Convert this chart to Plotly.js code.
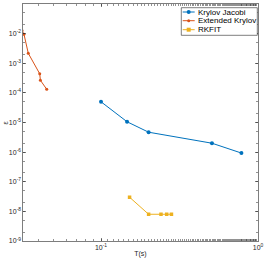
<!DOCTYPE html>
<html><head><meta charset="utf-8">
<script src="https://cdn.plot.ly/plotly-3.0.1.min.js"></script>
<style>html,body{margin:0;padding:0;background:#fff}#c{width:266px;height:262px}</style>
</head><body><div id="c"></div>
<script>
var kjT = [0.100, 0.1465, 0.201, 0.509, 0.784];
var kjE = [5.0e-5, 1.06e-5, 4.7e-6, 2.0e-6, 9.3e-7];
var ekT = [0.0314, 0.0323, 0.0344, 0.0407, 0.0411, 0.0451];
var ekE = [1.26e-2, 9.5e-3, 2.17e-3, 4.4e-4, 2.66e-4, 1.32e-4];
var rkT = [0.152, 0.201, 0.241, 0.262, 0.281];
var rkE = [3.0e-8, 8.0e-9, 8.0e-9, 8.0e-9, 8.0e-9];
var seriesNames = ['Krylov Jacobi', 'Extended Krylov', 'RKFIT'];
var seriesColors = ['#0072BD', '#D95319', '#EDB120'];
var xTickVals = [0.1, 1];
var xTickText = ['10<sup>-1</sup>', '10<sup>0</sup>'];
var yTickVals = [1e-1, 1e-2, 1e-3, 1e-4, 1e-5, 1e-6, 1e-7, 1e-8, 1e-9];
var yTickText = ['10<sup>-1</sup>','10<sup>-2</sup>','10<sup>-3</sup>','10<sup>-4</sup>','10<sup>-5</sup>','10<sup>-6</sup>','10<sup>-7</sup>','10<sup>-8</sup>','10<sup>-9</sup>'];

var FONT = 'Liberation Sans, Arial, sans-serif';
var traces = [
  {x: kjT, y: kjE, name: seriesNames[0], mode: 'lines+markers',
   line: {color: seriesColors[0], width: 1}, marker: {symbol: 'circle', size: 4, color: seriesColors[0]}},
  {x: ekT, y: ekE, name: seriesNames[1], mode: 'lines+markers',
   line: {color: seriesColors[1], width: 1}, marker: {symbol: 'circle', size: 3, color: seriesColors[1]}},
  {x: rkT, y: rkE, name: seriesNames[2], mode: 'lines+markers',
   line: {color: seriesColors[2], width: 1}, marker: {symbol: 'square', size: 3.5, color: seriesColors[2]}}
];
var axisCommon = {
  type: 'log', showgrid: false, zeroline: false, showline: true, linecolor: '#262626', linewidth: 0.6,
  mirror: 'ticks', ticks: 'inside', ticklen: 3, tickwidth: 0.6, tickcolor: '#262626',
  tickfont: {family: FONT, size: 7, color: '#262626'},
  minor: {ticks: 'inside', ticklen: 2, tickwidth: 0.5, tickcolor: '#262626', showgrid: false}
};

var W = 266, H = 262, L = 23, R = 8, T = 4, B = 21;
var pw = W - L - R, ph = H - T - B;
function px(x) { return (x - L) / pw; }
function py(y) { return (H - B - y) / ph; }
var shapes = [{type: 'rect', xref: 'paper', yref: 'paper', x0: px(181.3), x1: px(257.3), y0: py(35.3), y1: py(7.7),
  line: {color: '#262626', width: 0.6}, fillcolor: '#fff', layer: 'above'}];
var annotations = [];
var rowY = [12, 20.7, 29.7];
var symb = ['circle', 'circle', 'square'];
for (var i = 0; i < seriesNames.length; i++) {
  shapes.push({type: 'line', xref: 'paper', yref: 'paper', x0: px(182.7), x1: px(194.7), y0: py(rowY[i]), y1: py(rowY[i]),
    line: {color: seriesColors[i], width: 1}, layer: 'above'});
  var s = (i === 1) ? 1.5 : 2;
  shapes.push({type: symb[i] === 'circle' ? 'circle' : 'rect', xref: 'paper', yref: 'paper',
    xsizemode: 'pixel', ysizemode: 'pixel', xanchor: px(188.7), yanchor: py(rowY[i]),
    x0: -s, x1: s, y0: -s, y1: s, fillcolor: seriesColors[i], line: {width: 0}, layer: 'above'});
  annotations.push({xref: 'paper', yref: 'paper', x: px(195.5), y: py(rowY[i]), xanchor: 'left', yanchor: 'middle',
    text: seriesNames[i], showarrow: false, font: {family: FONT, size: 8, color: '#000'}});
}
annotations.push({xref: 'paper', yref: 'paper', x: px(4.5), y: py(123), xanchor: 'center', yanchor: 'middle',
  text: 'ε', showarrow: false, textangle: -90, font: {family: FONT, size: 7, color: '#262626'}});

var layout = {
  width: W, height: H, margin: {l: L, r: R, t: T, b: B},
  paper_bgcolor: '#fff', plot_bgcolor: '#fff', showlegend: false,
  xaxis: Object.assign({}, axisCommon, {range: [-1.497, 0], tickvals: xTickVals, ticktext: xTickText,
    title: {text: 'T(s)', font: {family: FONT, size: 7, color: '#262626'}, standoff: 0}}),
  yaxis: Object.assign({}, axisCommon, {range: [-9, -1], tickvals: yTickVals, ticktext: yTickText}),
  shapes: shapes, annotations: annotations
};
Plotly.newPlot('c', traces, layout, {displayModeBar: false, staticPlot: true});
</script></body></html>
